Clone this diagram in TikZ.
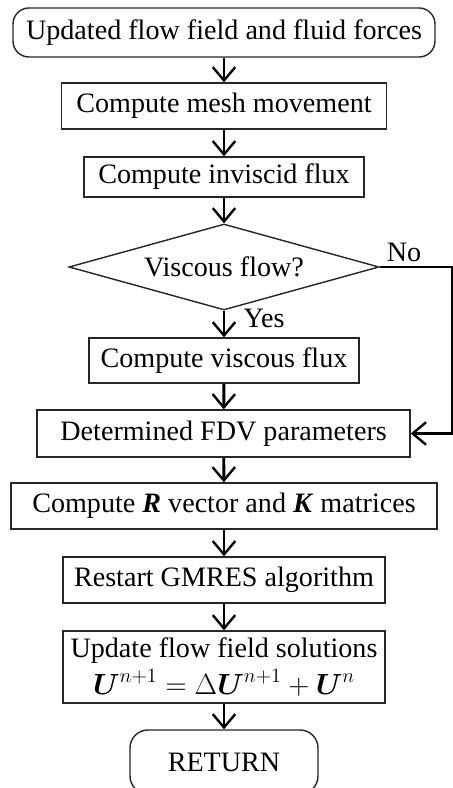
\documentclass[tikz,border=0pt]{standalone}
\usepackage{amsmath,amssymb}
\usepackage{fontspec}
\setmainfont{Liberation Serif}
\usepackage{tikz}
\usetikzlibrary{arrows.meta}
\usetikzlibrary{backgrounds}
\usetikzlibrary{shapes,shapes.geometric}
\pgfdeclarelayer{edgelayer}
\pgfdeclarelayer{nodelayer}
\pgfsetlayers{background,edgelayer,nodelayer,main}
\tikzstyle{none}=[inner sep=0mm]
\tikzstyle{box}=[draw=black!85,line width=1pt,shape=rectangle,inner sep=0pt,align=center,font=\fontsize{20}{24}\selectfont]
\tikzstyle{rbox}=[box,rounded corners=0.4cm]
\tikzstyle{decision}=[box,shape=diamond,aspect=3.6]
\tikzstyle{flow}=[line width=2.1pt,-{Straight Barb[length=9.5pt,width=16pt,line width=1.7pt]}]
\tikzstyle{lbl}=[inner sep=0pt,font=\fontsize{20}{24}\selectfont]

\begin{document}
\begin{tikzpicture}
	\useasboundingbox (0, 0) rectangle (11.325, -19.7);
	\begin{pgfonlayer}{nodelayer}
		\node [style=rbox, minimum width=10.55cm, minimum height=1.225cm] (start) at (5.6, -0.8125) {Updated flow field and fluid forces};
		\node [style=box, minimum width=8.125cm, minimum height=1.15cm] (mesh) at (5.6, -2.65) {Compute mesh movement};
		\node [style=box, minimum width=7cm, minimum height=1cm] (inv) at (5.6, -4.425) {Compute inviscid flux};
		\node [style=decision, minimum width=7.75cm, minimum height=2.15cm] (visq) at (5.6, -6.675) {Viscous flow?};
		\node [style=box, minimum width=6.75cm, minimum height=1.125cm] (visc) at (5.6, -9.0125) {Compute viscous flux};
		\node [style=box, minimum width=9.325cm, minimum height=1.175cm] (fdv) at (5.59, -10.8375) {Determined FDV parameters};
		\node [style=box, minimum width=10.65cm, minimum height=1.15cm] (rk) at (5.6, -12.65) {Compute \textbf{\textit{R}} vector and \textbf{\textit{K}} matrices};
		\node [style=box, minimum width=8.05cm, minimum height=1.8cm] (upd) at (5.6, -16.675) {Update flow field solutions\\[2pt]$\boldsymbol{U}^{n+1}=\Delta\boldsymbol{U}^{n+1}+\boldsymbol{U}^{n}$};
		\node [style=box, minimum width=8.05cm, minimum height=1.15cm] (gmres) at (5.6, -14.5) {Restart GMRES algorithm};
		\node [style=rbox, minimum width=4.7cm, minimum height=1.6cm, rounded corners=0.45cm] (ret) at (5.6, -19.05) {RETURN};
		\node [style=lbl] (yes) at (6.6, -7.95) {Yes};
		\node [style=lbl] (no) at (10.1, -6.3) {No};
		\coordinate (nr) at (11.3, -6.675);
	\end{pgfonlayer}
	\begin{pgfonlayer}{edgelayer}
		\draw [style=flow] (start) to (mesh);
		\draw [style=flow] (mesh) to (inv);
		\draw [style=flow] (inv) to (visq);
		\draw [style=flow] (visq) to (visc);
		\draw [style=flow] (visc) to (fdv);
		\draw [style=flow] (fdv) to (rk);
		\draw [style=flow] (rk) to (gmres);
		\draw [style=flow] (gmres) to (upd);
		\draw [style=flow] (upd) to (ret);
		\draw [style=flow] (visq.east) -- (nr) |- (fdv.east);
	\end{pgfonlayer}
\end{tikzpicture}
\end{document}
